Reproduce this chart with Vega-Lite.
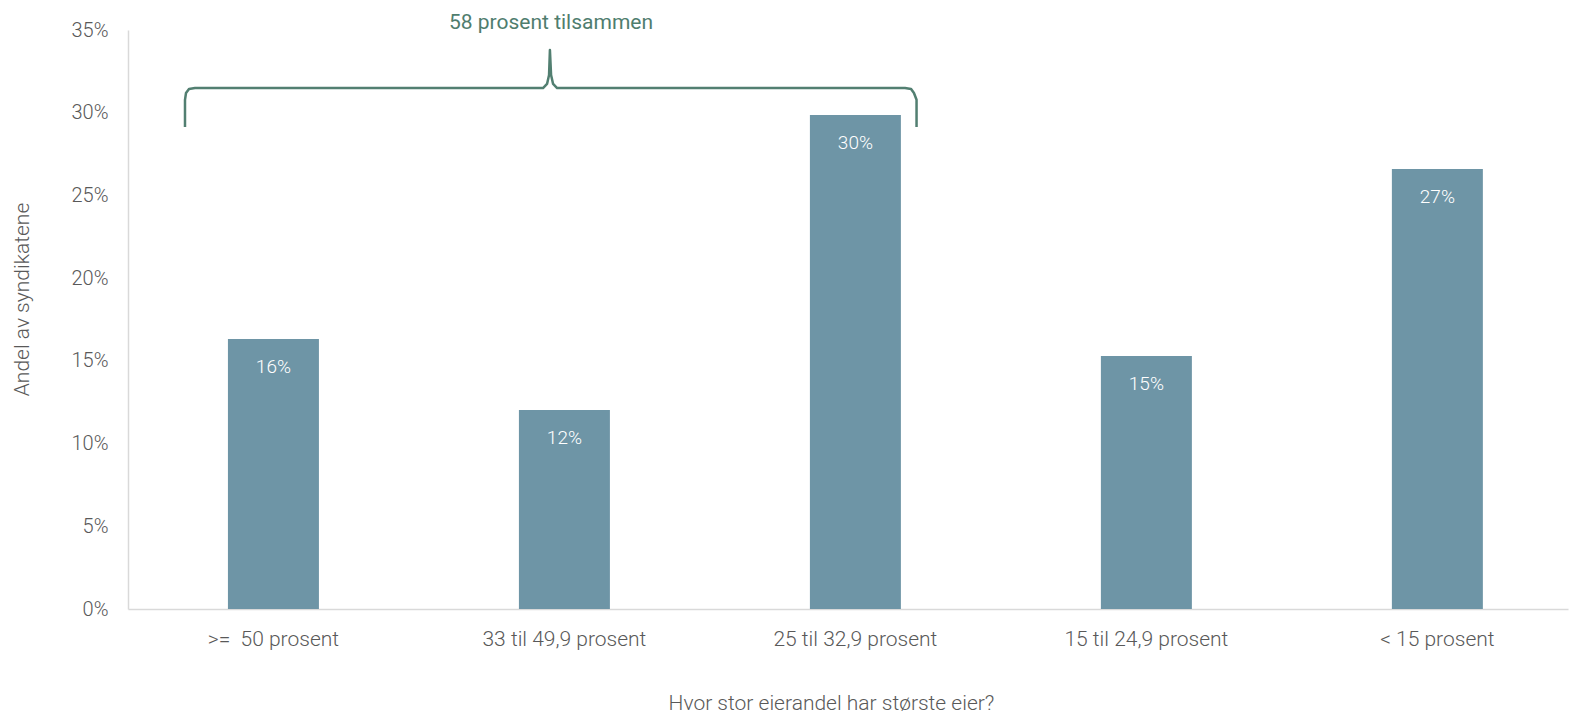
{
  "$schema": "https://vega.github.io/schema/vega-lite/v6.json",
  "width": 1440,
  "height": 579,
  "autosize": {"type": "none"},
  "padding": {"left": 128, "top": 30, "right": 1, "bottom": 105},
  "background": "white",
  "config": {
    "view": {"stroke": null},
    "font": "Roboto",
    "axis": {"labelFont": "Roboto", "titleFont": "Roboto", "labelFontWeight": 300, "titleFontWeight": 300, "labelColor": "#595959", "titleColor": "#595959", "labelFontSize": 21, "titleFontSize": 21, "domainColor": "#d9d9d9", "domainWidth": 1.5, "ticks": false, "grid": false}
  },
  "datasets": {
    "bars": [
      {"kategori": ">=\u00a0 50 prosent", "andel": 0.1632},
      {"kategori": "33 til 49,9 prosent", "andel": 0.1203},
      {"kategori": "25 til 32,9 prosent", "andel": 0.2986},
      {"kategori": "15 til 24,9 prosent", "andel": 0.1529},
      {"kategori": "< 15 prosent", "andel": 0.2660}
    ],
    "brace": [
      {"i": 1, "bx": 0.1979, "by": 0.2914},
      {"i": 2, "bx": 0.1979, "by": 0.3078},
      {"i": 3, "bx": 0.2014, "by": 0.3119},
      {"i": 4, "bx": 0.2118, "by": 0.3143},
      {"i": 5, "bx": 0.2326, "by": 0.3149},
      {"i": 6, "bx": 1.441, "by": 0.3149},
      {"i": 7, "bx": 1.455, "by": 0.3174},
      {"i": 8, "bx": 1.462, "by": 0.3228},
      {"i": 9, "bx": 1.465, "by": 0.3379},
      {"i": 10, "bx": 1.469, "by": 0.3228},
      {"i": 11, "bx": 1.476, "by": 0.3174},
      {"i": 12, "bx": 1.490, "by": 0.3149},
      {"i": 13, "bx": 2.698, "by": 0.3149},
      {"i": 14, "bx": 2.719, "by": 0.3143},
      {"i": 15, "bx": 2.729, "by": 0.3119},
      {"i": 16, "bx": 2.738, "by": 0.3078},
      {"i": 17, "bx": 2.738, "by": 0.2914}
    ],
    "note": [
      {"bx": 1.4688, "by": 0.3545, "tekst": "58 prosent tilsammen"}
    ]
  },
  "layer": [
    {
      "data": {"name": "bars"},
      "encoding": {
        "x": {
          "field": "kategori", "type": "nominal", "sort": null,
          "scale": {"paddingInner": 0.6873, "paddingOuter": 0.318, "align": 0.54},
          "axis": {"labelAngle": 0, "labelPadding": 19, "title": "Hvor stor eierandel har største eier?", "titleY": 94, "titleBaseline": "middle", "titleX": 703}
        },
        "y": {
          "field": "andel", "type": "quantitative",
          "scale": {"domain": [0, 0.35], "nice": false},
          "axis": {"format": ".0%", "values": [0, 0.05, 0.1, 0.15, 0.2, 0.25, 0.3, 0.35], "labelPadding": 20, "labelFontSize": 20, "title": "Andel av syndikatene", "titleX": -106, "titleY": 269, "titleBaseline": "middle", "titleAlign": "center"}
        }
      },
      "layer": [
        {"mark": {"type": "bar", "color": "#6e95a6"}},
        {
          "mark": {"type": "text", "color": "white", "fontSize": 19, "fontWeight": 300, "baseline": "middle", "dy": 28, "font": "Roboto"},
          "encoding": {"text": {"field": "andel", "type": "quantitative", "format": ".0%"}}
        }
      ]
    },
    {
      "layer": [
        {
          "data": {"name": "brace"},
          "mark": {"type": "line", "color": "#527f71", "strokeWidth": 2.5, "strokeJoin": "round"},
          "encoding": {
            "x": {"field": "bx", "type": "quantitative", "scale": {"domain": [0, 5], "nice": false, "zero": false}, "axis": null},
            "y": {"field": "by", "type": "quantitative"},
            "order": {"field": "i", "type": "quantitative"}
          }
        },
        {
          "data": {"name": "note"},
          "mark": {"type": "text", "color": "#4f7d6e", "fontSize": 21, "fontWeight": 400, "font": "Roboto", "baseline": "middle", "align": "center"},
          "encoding": {
            "x": {"field": "bx", "type": "quantitative", "scale": {"domain": [0, 5], "nice": false, "zero": false}, "axis": null},
            "y": {"field": "by", "type": "quantitative"},
            "text": {"field": "tekst", "type": "nominal"}
          }
        }
      ]
    }
  ],
  "resolve": {"scale": {"x": "independent"}}
}
